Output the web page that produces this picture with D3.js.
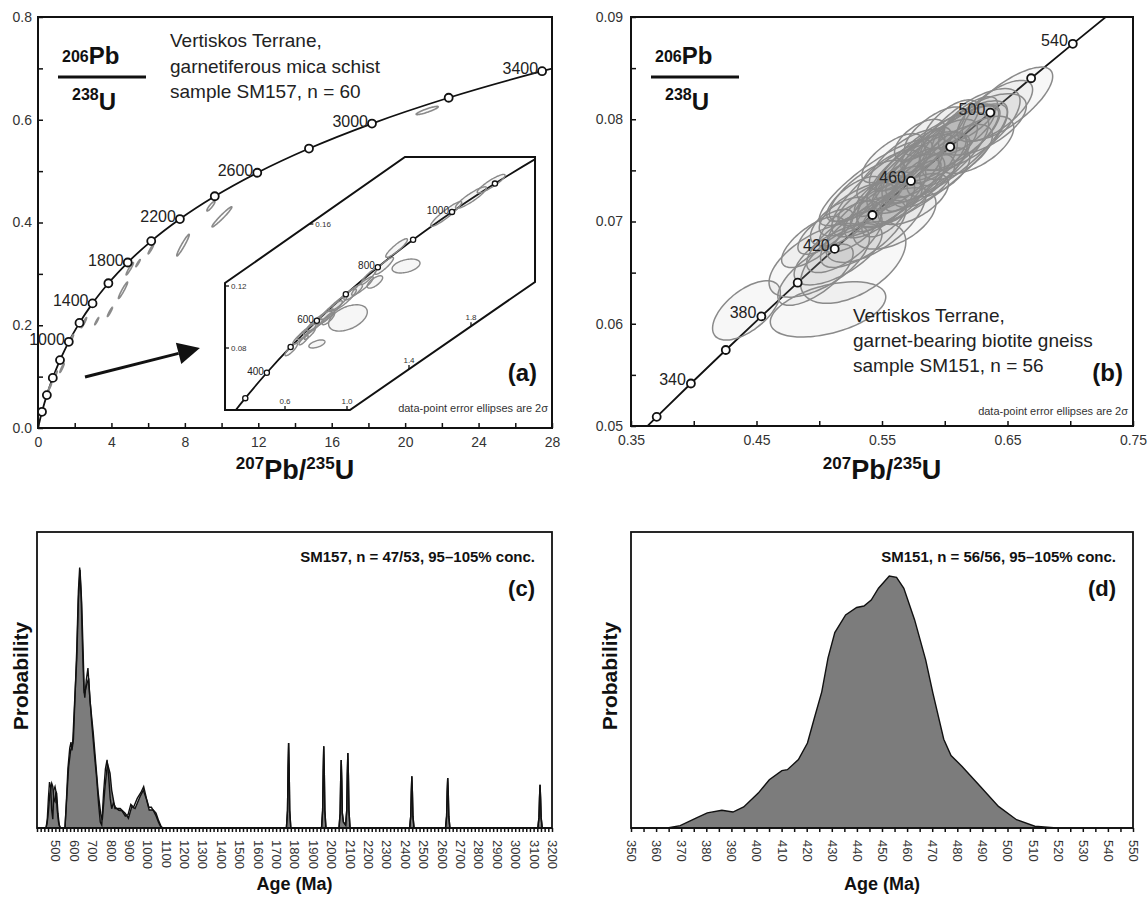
<!DOCTYPE html>
<html>
<head>
<meta charset="utf-8">
<script src="https://cdn.jsdelivr.net/npm/d3@7"></script>
<style>
  body { margin: 0; background: #fff; }
  svg { display: block; font-family: Arial, "Liberation Sans", Helvetica, sans-serif; }
</style>
</head>
<body>
<svg id="fig" width="1148" height="898"></svg>
<script>
// ---------- data ----------

// concordia reference points, age (Ma) -> 207Pb/235U, 206Pb/238U
const concAges = [0,100,200,300,400,500,600,700,800,900,1000,1100,1200,1400,1600,1800,2000,2200,2400,2600,2800,3000,3200,3400,3600];
const conc207 = [0,0.1035,0.2177,0.3437,0.4828,0.6363,0.8056,0.9925,1.1987,1.4263,1.6774,1.9545,2.2603,2.9701,3.8344,4.8869,6.1685,7.7292,9.6295,11.9438,14.7617,18.1931,22.3716,27.4596,33.6556];
const conc206 = [0,0.01563,0.03151,0.04764,0.06402,0.08065,0.09754,0.11470,0.13213,0.14983,0.16780,0.18606,0.20460,0.24256,0.28172,0.32210,0.36377,0.40674,0.45107,0.49679,0.54396,0.59261,0.64280,0.69456,0.74796];
const markA = [200,400,600,800,1000,1200,1400,1600,1800,2000,2200,2400,2600,2800,3000,3200,3400];
const labelA = [1000,1400,1800,2200,2600,3000,3400];
const markInset = [300,400,500,600,700,800,900,1000,1100];
const labelInset = [400,600,800,1000];

const concAgesB = [300,320,340,360,380,400,420,440,460,480,500,520,540,560,580];
const conc207B = [0.34374,0.37047,0.39773,0.42553,0.45389,0.48281,0.51231,0.54239,0.57307,0.60436,0.63628,0.66883,0.70203,0.73588,0.77041];
const conc206B = [0.047637,0.050893,0.054158,0.057434,0.060720,0.064016,0.067322,0.070638,0.073965,0.077302,0.080650,0.084008,0.087376,0.090755,0.094144];
const markB = [320,340,360,380,400,420,440,460,480,500,520,540];
const labelB = [340,380,420,460,500,540];

// error ellipses: [207/235, 2s, 206/238, 2s, rho]
const ellipsesA = [
  [9.42,0.22,0.432,0.0095,0.9],[10.02,0.54,0.411,0.0195,0.97],[7.9,0.34,0.356,0.021,0.96],
  [6.15,0.15,0.348,0.009,0.95],[5.45,0.12,0.321,0.007,0.95],[4.63,0.25,0.268,0.016,0.96],
  [3.92,0.14,0.226,0.009,0.95],[3.2,0.11,0.208,0.007,0.95],[1.31,0.12,0.117,0.009,0.95],
  [0.65,0.09,0.08,0.007,0.95],[21.2,0.6,0.618,0.008,0.9],[1.8,0.14,0.172,0.01,0.95],
  [0.95,0.1,0.103,0.008,0.95],[2.5,0.15,0.205,0.01,0.95],[5.0,0.2,0.31,0.012,0.95]
];
const ellipsesInset = [
  [1.006,0.125,0.0994,0.0085,0.45],[1.381,0.09,0.1329,0.0045,0.4],[0.806,0.052,0.0826,0.0026,0.55],
  [1.18,0.05,0.1226,0.004,0.7],[1.64,0.10,0.1665,0.008,0.93],[1.80,0.10,0.177,0.007,0.9],
  [1.93,0.09,0.186,0.006,0.9],[1.32,0.07,0.1445,0.006,0.9],[0.64,0.04,0.079,0.004,0.85],
  [0.70,0.05,0.087,0.0045,0.9],[0.74,0.06,0.0905,0.005,0.9],[0.78,0.06,0.0935,0.005,0.9],
  [0.82,0.08,0.0975,0.0065,0.9],[0.86,0.06,0.1,0.005,0.85],[0.90,0.07,0.1045,0.006,0.9],
  [0.94,0.06,0.1085,0.005,0.9],[0.98,0.08,0.111,0.007,0.9],[1.04,0.06,0.116,0.005,0.85],
  [1.10,0.07,0.12,0.006,0.9],[1.14,0.05,0.126,0.005,0.9],[1.24,0.06,0.133,0.0055,0.9],
  [0.76,0.035,0.089,0.0035,0.9],[0.88,0.04,0.099,0.004,0.8],[0.72,0.03,0.085,0.003,0.85]
];
const ellipsesB = [
  [0.442,0.027,0.0613,0.0029,0.6],[0.507,0.046,0.0614,0.0027,0.45],[0.500,0.040,0.0662,0.0036,0.6],
  [0.497,0.030,0.0648,0.0030,0.7],[0.515,0.035,0.0668,0.0030,0.65],[0.527,0.042,0.0660,0.0040,0.5],
  [0.520,0.030,0.0680,0.0030,0.7],[0.535,0.034,0.0688,0.0033,0.7],[0.545,0.040,0.0700,0.0040,0.65],
  [0.560,0.033,0.0703,0.0030,0.5],[0.548,0.028,0.0712,0.0028,0.75],[0.555,0.030,0.0722,0.0032,0.75],
  [0.565,0.035,0.0730,0.0036,0.7],[0.570,0.028,0.0742,0.0030,0.8],[0.578,0.040,0.0748,0.0040,0.7],
  [0.585,0.032,0.0755,0.0032,0.75],[0.590,0.045,0.0762,0.0045,0.75],[0.596,0.030,0.0770,0.0030,0.7],
  [0.605,0.038,0.0775,0.0038,0.8],[0.612,0.032,0.0782,0.0032,0.75],[0.620,0.040,0.0790,0.0040,0.7],
  [0.600,0.050,0.0768,0.0050,0.8],[0.590,0.060,0.0755,0.0060,0.85],[0.630,0.035,0.0795,0.0030,0.6],
  [0.560,0.050,0.0735,0.0050,0.8],[0.540,0.025,0.0718,0.0022,0.7],[0.575,0.022,0.0735,0.0025,0.8],
  [0.583,0.025,0.0740,0.0026,0.6],[0.562,0.020,0.0718,0.0020,0.7],[0.552,0.018,0.0705,0.0020,0.6],
  [0.600,0.020,0.0760,0.0025,0.7],[0.610,0.028,0.0768,0.0027,0.6],[0.525,0.025,0.0695,0.0025,0.6],
  [0.538,0.030,0.0730,0.0030,0.75],[0.570,0.030,0.0760,0.0030,0.7],[0.545,0.045,0.0738,0.0042,0.85],
  [0.495,0.025,0.0680,0.0025,0.7],[0.625,0.030,0.0775,0.0028,0.6],[0.640,0.030,0.0808,0.0030,0.7],
  [0.585,0.020,0.0770,0.0022,0.7],[0.595,0.025,0.0748,0.0024,0.6],[0.555,0.025,0.0745,0.0025,0.7],
  [0.565,0.020,0.0752,0.0022,0.8],[0.575,0.028,0.0722,0.0025,0.6],[0.530,0.030,0.0712,0.0026,0.7],
  [0.518,0.025,0.0700,0.0024,0.6],[0.505,0.022,0.0690,0.0022,0.7],[0.615,0.025,0.0790,0.0025,0.7],
  [0.605,0.022,0.0795,0.0024,0.65],[0.580,0.020,0.0780,0.0020,0.6],[0.548,0.020,0.0725,0.0020,0.7],
  [0.558,0.024,0.0762,0.0024,0.7],[0.528,0.022,0.0722,0.0022,0.7],[0.592,0.024,0.0788,0.0024,0.7],
  [0.620,0.022,0.0800,0.0022,0.7],[0.650,0.036,0.0815,0.0036,0.75]
];

// relative probability, SM157: [age Ma, probability]
const cFillMain = [[400,0],[449,0],[455,0.016],[461,0.05],[470,0.117],[480,0.151],[486,0.14],[492,0.095],[498,0.089],[503,0.123],[507,0.117],[514,0.05],[521,0.01],[528,0],[552,0],[561,0.095],[572,0.207],[583,0.263],[594,0.286],[605,0.432],[616,0.568],[625,0.77],[634,0.872],[643,0.759],[652,0.568],[657,0.455],[663,0.466],[672,0.489],[681,0.506],[688,0.432],[706,0.32],[724,0.185],[733,0.117],[746,0.05],[755,0.027],[770,0.14],[783,0.218],[797,0.185],[806,0.128],[824,0.066],[852,0.066],[879,0.05],[897,0.033],[915,0.072],[933,0.066],[960,0.106],[978,0.128],[996,0.095],[1010,0.061],[1032,0.061],[1047,0.05],[1060,0.027],[1075,0.005],[1085,0]];
const cLineMain = [[400,0],[449,0],[456,0.03],[462,0.1],[468,0.155],[474,0.14],[480,0.06],[486,0.03],[492,0.13],[498,0.14],[504,0.12],[510,0.06],[517,0.02],[525,0],[552,0],[559,0.08],[568,0.2],[578,0.27],[585,0.29],[590,0.262],[598,0.3],[607,0.45],[616,0.6],[625,0.8],[632,0.88],[640,0.79],[648,0.6],[655,0.47],[660,0.44],[668,0.5],[677,0.54],[684,0.47],[697,0.36],[712,0.25],[724,0.17],[735,0.08],[744,0.02],[752,0.01],[762,0.12],[772,0.2],[781,0.23],[790,0.17],[798,0.1],[806,0.065],[816,0.085],[826,0.07],[845,0.06],[862,0.058],[880,0.04],[895,0.045],[910,0.08],[925,0.07],[945,0.1],[965,0.12],[980,0.14],[995,0.1],[1008,0.07],[1022,0.07],[1036,0.055],[1048,0.04],[1060,0.02],[1072,0.005],[1082,0]];
const cSpikes = [
  [1756,0],[1762,0.06],[1765,0.2],[1768,0.287],[1771,0.2],[1774,0.06],[1780,0],
  [1947,0],[1953,0.06],[1956,0.19],[1959,0.276],[1962,0.19],[1965,0.06],[1971,0],
  [2042,0],[2048,0.05],[2051,0.16],[2054,0.23],[2057,0.16],[2060,0.05],[2066,0.02],
  [2078,0.01],[2084,0.06],[2087,0.18],[2090,0.253],[2093,0.18],[2096,0.06],[2102,0],
  [2426,0],[2432,0.04],[2435,0.12],[2438,0.175],[2441,0.12],[2444,0.04],[2450,0],
  [2621,0],[2627,0.04],[2630,0.12],[2633,0.169],[2636,0.12],[2639,0.04],[2645,0],
  [3123,0],[3129,0.035],[3132,0.1],[3135,0.146],[3138,0.1],[3141,0.035],[3147,0],[3200,0]
];
const cTickLabels = [500,600,700,800,900,1000,1100,1200,1300,1400,1500,1600,1700,1800,1900,2000,2100,2200,2300,2400,2500,2600,2700,2800,2900,3000,3100,3200];

// relative probability, SM151
const dCurve = [[350,0],[364.5,0],[369.6,0.008],[376.1,0.034],[380.4,0.051],[386.2,0.06],[390.6,0.054],[394.9,0.071],[400.7,0.118],[405.1,0.163],[410.1,0.194],[412.3,0.197],[416.7,0.231],[420.3,0.287],[423,0.37],[426,0.46],[428.5,0.575],[431.2,0.66],[435.5,0.72],[439.9,0.745],[442.8,0.75],[445.7,0.77],[448.6,0.81],[452.9,0.851],[455.8,0.847],[458.7,0.81],[463,0.703],[467.4,0.568],[470.3,0.455],[474.6,0.3],[477.5,0.245],[481.9,0.208],[489.1,0.141],[496.4,0.073],[503.6,0.028],[510.9,0.006],[519.6,0],[550,0]];
const dTickLabels = [350,360,370,380,390,400,410,420,430,440,450,460,470,480,490,500,510,520,530,540,550];

const titleA = ["Vertiskos Terrane,", "garnetiferous mica schist", "sample SM157, n = 60"];
const titleB = ["Vertiskos Terrane,", "garnet-bearing biotite gneiss", "sample SM151, n = 56"];

// ---------- drawing ----------
const svg = d3.select("#fig");
const font = 'Arial, "Liberation Sans", Helvetica, sans-serif';
const ink = "#222";
const ellGrey = "#8a8a8a";

const xA = d3.scaleLinear([0, 28], [38, 552]);
const yA = d3.scaleLinear([0, 0.8], [428, 17]);
const xI = d3.scaleLinear([0.6, 1.0], [285, 347]);
const yI = d3.scaleLinear([0.08, 0.12], [348, 286]);
const xB = d3.scaleLinear([0.35, 0.75], [631, 1133]);
const yB = d3.scaleLinear([0.05, 0.09], [426, 17]);
const xC = d3.scaleLinear([400, 3200], [37, 552]);
const yC = d3.scaleLinear([0, 1], [828, 532]);
const xD = d3.scaleLinear([350, 550], [631, 1133]);
const yD = d3.scaleLinear([0, 1], [828, 532]);

const defs = svg.append("defs");

function ellipsePath(xs, ys, [x, sx, y, sy, rho]) {
  const k = Math.sqrt(1 - rho * rho);
  const pts = d3.range(0, 2 * Math.PI, Math.PI / 36)
    .map(t => [xs(x + sx * Math.cos(t)), ys(y + sy * (rho * Math.cos(t) + k * Math.sin(t)))]);
  return d3.line().curve(d3.curveCardinalClosed)(pts);
}

function styleAxis(g, size) {
  g.attr("font-family", font).attr("font-size", size).attr("color", "#333");
  g.select(".domain").remove();
  g.selectAll(".tick line").attr("stroke", "#111").attr("stroke-width", 1.5);
}

function ratioLabel(x0) {
  const g = svg.append("g").attr("fill", "#111").attr("font-weight", "bold");
  const t1 = g.append("text").attr("x", x0 + 24).attr("y", 62);
  t1.append("tspan").attr("font-size", 16).text("206");
  t1.append("tspan").attr("font-size", 24).attr("dy", 2).text("Pb");
  g.append("line").attr("x1", x0 + 20).attr("x2", x0 + 108).attr("y1", 77).attr("y2", 77)
    .attr("stroke", "#111").attr("stroke-width", 3);
  const t2 = g.append("text").attr("x", x0 + 34).attr("y", 100);
  t2.append("tspan").attr("font-size", 16).text("238");
  t2.append("tspan").attr("font-size", 24).attr("dy", 10).text("U");
}

function xTitle(cx) {
  const t = svg.append("text").attr("x", cx).attr("y", 479).attr("text-anchor", "middle")
    .attr("font-weight", "bold").attr("fill", "#111").attr("font-size", 27);
  t.append("tspan").attr("font-size", 17).attr("dy", -10).text("207");
  t.append("tspan").attr("dy", 10).text("Pb/");
  t.append("tspan").attr("font-size", 17).attr("dy", -10).text("235");
  t.append("tspan").attr("dy", 10).text("U");
}

function concordia(g, xs, ys, ages, c207, c206, marks, labels, r, fs, clip) {
  const pts = ages.map((a, i) => [xs(c207[i]), ys(c206[i])]);
  g.append("path").attr("d", d3.line().curve(d3.curveMonotoneX)(pts))
    .attr("fill", "none").attr("stroke", "#111").attr("stroke-width", 1.8)
    .attr("clip-path", clip);
  return { pts, marks, labels, r, fs, ages };
}

function drawMarks(g, c, dx, dy) {
  const sel = c.ages.map((a, i) => ({ a, p: c.pts[i] })).filter(d => c.marks.includes(d.a));
  g.selectAll(null).data(sel).join("circle")
    .attr("cx", d => d.p[0]).attr("cy", d => d.p[1]).attr("r", c.r)
    .attr("fill", "#fff").attr("stroke", "#111").attr("stroke-width", c.r > 3 ? 1.8 : 1.3);
  g.selectAll(null).data(sel.filter(d => c.labels.includes(d.a))).join("text")
    .attr("x", d => d.p[0] - dx).attr("y", d => d.p[1] + dy)
    .attr("text-anchor", "end").attr("font-size", c.fs).attr("fill", ink).text(d => d.a);
}

// ===== panel (a) =====
defs.append("clipPath").attr("id", "clipA").append("rect")
  .attr("x", 38).attr("y", 17).attr("width", 514).attr("height", 411);

const gA = svg.append("g");
const concA = concordia(gA, xA, yA, concAges, conc207, conc206, markA, labelA, 4, 16, "url(#clipA)");
gA.selectAll(null).data(ellipsesA).join("path")
  .attr("d", d => ellipsePath(xA, yA, d))
  .attr("fill", "none").attr("stroke", ellGrey).attr("stroke-width", 1.6);
drawMarks(gA, concA, 4, 3);

// axes (a)
svg.append("g").attr("transform", `translate(0,${yA(0)})`)
  .call(d3.axisBottom(xA).tickValues(d3.range(0, 28.1, 2)).tickSize(-5).tickPadding(9)
    .tickFormat(d => d % 4 === 0 ? d : ""))
  .call(g => styleAxis(g, 14));
svg.append("g").attr("transform", `translate(${xA(0)},0)`)
  .call(d3.axisLeft(yA).tickValues(d3.range(0, 0.81, 0.1)).tickSize(-5).tickPadding(6)
    .tickFormat(d => Math.round(d * 10) % 2 === 0 ? d3.format(".1f")(d) : ""))
  .call(g => styleAxis(g, 14));

// arrow
const a0 = [xA(2.56), yA(0.0993)], a1 = [xA(8.82), yA(0.1557)];
{
  const L = Math.hypot(a1[0] - a0[0], a1[1] - a0[1]);
  const u = [(a1[0] - a0[0]) / L, (a1[1] - a0[1]) / L], n = [-u[1], u[0]];
  const b = [a1[0] - 22 * u[0], a1[1] - 22 * u[1]];
  svg.append("line").attr("x1", a0[0]).attr("y1", a0[1]).attr("x2", b[0]).attr("y2", b[1])
    .attr("stroke", "#111").attr("stroke-width", 3);
  svg.append("path").attr("d", d3.line()([a1, [b[0] + 11 * n[0], b[1] + 11 * n[1]], [b[0] - 11 * n[0], b[1] - 11 * n[1]]]) + "Z")
    .attr("fill", "#111");
}

// inset
const hexData = [[0.213, 0.04], [0.213, 0.1219], [1.374, 0.2032], [2.213, 0.2032], [2.213, 0.1226], [1.019, 0.04]];
const hexPts = hexData.map(([x, y]) => [xI(x), yI(y)]);
defs.append("clipPath").attr("id", "clipI").append("path").attr("d", d3.line()(hexPts) + "Z");
svg.append("path").attr("d", d3.line()(hexPts) + "Z").attr("fill", "#fff");
const gI = svg.append("g");
const concI = concordia(gI, xI, yI, concAges.slice(0, 14), conc207, conc206, markInset, labelInset, 2.6, 10, "url(#clipI)");
gI.append("g").attr("clip-path", "url(#clipI)")
  .selectAll("path").data(ellipsesInset).join("path")
  .attr("d", d => ellipsePath(xI, yI, d))
  .attr("fill", ellGrey).attr("fill-opacity", 0.08)
  .attr("stroke", ellGrey).attr("stroke-width", 1.4);
drawMarks(gI, concI, 3, 2);
svg.append("path").attr("d", d3.line()(hexPts) + "Z").attr("fill", "none")
  .attr("stroke", "#111").attr("stroke-width", 2);
// inset ticks
const insetTicks = [
  ["0.08", xI(0.213), yI(0.08), 4, 0], ["0.12", xI(0.213), yI(0.12), 4, 0],
  ["0.16", xI(0.757), yI(0.16), 4, 0], ["0.6", xI(0.6), yI(0.04), 0, -4],
  ["1.0", xI(1.0), yI(0.04), 0, -4], ["1.4", xI(1.4), yI(0.0664), 0, -4], ["1.8", xI(1.8), yI(0.094), 0, -4]
];
const gIt = svg.append("g").attr("font-size", 8).attr("fill", "#333");
insetTicks.forEach(([lab, x, y, dx, dy]) => {
  gIt.append("line").attr("x1", x).attr("y1", y).attr("x2", x + dx).attr("y2", y + dy)
    .attr("stroke", "#111").attr("stroke-width", 1.3);
  gIt.append("text").attr("x", x + (dx ? 6 : 0)).attr("y", y + (dy ? -6 : 3))
    .attr("text-anchor", dx ? "start" : "middle").text(lab);
});

svg.append("rect").attr("x", 38).attr("y", 17).attr("width", 514).attr("height", 411)
  .attr("fill", "none").attr("stroke", "#111").attr("stroke-width", 2);
ratioLabel(38);
svg.append("g").attr("font-size", 19).attr("fill", ink)
  .selectAll("text").data(titleA).join("text")
  .attr("x", 170).attr("y", (d, i) => 47 + i * 25.5).text(d => d);
svg.append("text").attr("x", 537).attr("y", 381).attr("text-anchor", "end")
  .attr("font-size", 24).attr("font-weight", "bold").attr("fill", "#111").text("(a)");
svg.append("text").attr("x", 548).attr("y", 412).attr("text-anchor", "end")
  .attr("font-size", 11).attr("fill", "#333").text("data-point error ellipses are 2σ");
xTitle(295);

// ===== panel (b) =====
defs.append("clipPath").attr("id", "clipB").append("rect")
  .attr("x", 631).attr("y", 17).attr("width", 502).attr("height", 409);
const gB = svg.append("g");
const concB = concordia(gB, xB, yB, concAgesB, conc207B, conc206B, markB, labelB, 4, 16, "url(#clipB)");
gB.append("g").attr("clip-path", "url(#clipB)")
  .selectAll("path").data(ellipsesB).join("path")
  .attr("d", d => ellipsePath(xB, yB, d))
  .attr("fill", ellGrey).attr("fill-opacity", 0.07)
  .attr("stroke", ellGrey).attr("stroke-width", 1.5);
drawMarks(gB, concB, 5, 2);

svg.append("g").attr("transform", `translate(0,${yB(0.05)})`)
  .call(d3.axisBottom(xB).tickValues(d3.range(0.35, 0.751, 0.05)).tickSize(-5).tickPadding(9)
    .tickFormat(d => Math.round(d * 100) % 10 === 5 ? d3.format(".2f")(d) : ""))
  .call(g => styleAxis(g, 14));
svg.append("g").attr("transform", `translate(${xB(0.35)},0)`)
  .call(d3.axisLeft(yB).tickValues(d3.range(0.05, 0.0901, 0.005)).tickSize(-5).tickPadding(8)
    .tickFormat(d => Math.round(d * 1000) % 10 === 0 ? d3.format(".2f")(d) : ""))
  .call(g => styleAxis(g, 14));
svg.append("rect").attr("x", 631).attr("y", 17).attr("width", 502).attr("height", 409)
  .attr("fill", "none").attr("stroke", "#111").attr("stroke-width", 2);
ratioLabel(631);
svg.append("g").attr("font-size", 19).attr("fill", ink)
  .selectAll("text").data(titleB).join("text")
  .attr("x", 853).attr("y", (d, i) => 322 + i * 25).text(d => d);
svg.append("text").attr("x", 1123).attr("y", 381).attr("text-anchor", "end")
  .attr("font-size", 24).attr("font-weight", "bold").attr("fill", "#111").text("(b)");
svg.append("text").attr("x", 1128).attr("y", 415).attr("text-anchor", "end")
  .attr("font-size", 11).attr("fill", "#333").text("data-point error ellipses are 2σ");
xTitle(882);

// ===== panels (c) and (d) =====
function probPanel(xs, ys, x0, x1, fillData, lineData, ticks, labels, note, tag, ylabX) {
  const area = d3.area().x(d => xs(d[0])).y0(ys(0)).y1(d => ys(d[1]));
  svg.append("path").attr("d", area(fillData)).attr("fill", "#7c7c7c")
    .attr("stroke", "#111").attr("stroke-width", 1.4);
  if (lineData) svg.append("path").attr("d", d3.line().x(d => xs(d[0])).y(d => ys(d[1]))(lineData))
    .attr("fill", "none").attr("stroke", "#111").attr("stroke-width", 1.4);
  svg.append("g").attr("transform", `translate(0,${ys(0)})`)
    .call(d3.axisBottom(xs).tickValues(ticks).tickSize(4).tickFormat(d => labels.includes(d) ? d : ""))
    .call(g => styleAxis(g, 13))
    .call(g => g.selectAll(".tick text").attr("transform", "rotate(90)")
      .attr("text-anchor", "start").attr("x", 12).attr("y", 0).attr("dy", "0.35em"));
  svg.append("rect").attr("x", x0).attr("y", ys(1)).attr("width", x1 - x0).attr("height", ys(0) - ys(1))
    .attr("fill", "none").attr("stroke", "#111").attr("stroke-width", 1.8);
  svg.append("text").attr("x", x1 - 17).attr("y", 562).attr("text-anchor", "end")
    .attr("font-size", 15).attr("font-weight", "bold").attr("fill", "#111").text(note);
  svg.append("text").attr("x", x1 - 17).attr("y", 596).attr("text-anchor", "end")
    .attr("font-size", 22).attr("font-weight", "bold").attr("fill", "#111").text(tag);
  svg.append("text").attr("transform", `translate(${ylabX},676) rotate(-90)`).attr("text-anchor", "middle")
    .attr("font-size", 21).attr("font-weight", "bold").attr("fill", "#111").text("Probability");
  svg.append("text").attr("x", (x0 + x1) / 2).attr("y", 890).attr("text-anchor", "middle")
    .attr("font-size", 18).attr("font-weight", "bold").attr("fill", "#111").text("Age (Ma)");
}

const cFill = cFillMain.concat(cSpikes);
const cLine = cLineMain.concat(cSpikes);
probPanel(xC, yC, 37, 552, cFill, cLine, d3.range(400, 3201, 20), cTickLabels,
  "SM157, n = 47/53, 95–105% conc.", "(c)", 28);
probPanel(xD, yD, 631, 1133, dCurve, null, d3.range(350, 551, 5), dTickLabels,
  "SM151, n = 56/56, 95–105% conc.", "(d)", 617);
</script>
</body>
</html>
